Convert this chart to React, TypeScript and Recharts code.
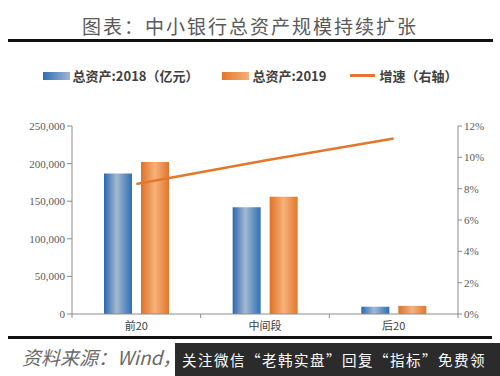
import React from "react";
import {
  ComposedChart,
  Bar,
  Line,
  XAxis,
  YAxis,
  Legend,
} from "recharts";

const categories = ["前20", "中间段", "后20"];
const assets2018 = [187000, 142000, 9700];
const assets2019 = [202000, 156000, 10800];
const growth = [0.083, 0.098, 0.112];

const leftTicks = [0, 50000, 100000, 150000, 200000, 250000];
const rightTicks = [0, 0.02, 0.04, 0.06, 0.08, 0.1, 0.12];

const data = categories.map((name, i) => ({
  name,
  a2018: assets2018[i],
  a2019: assets2019[i],
  growth: growth[i],
}));

const AXIS = "#8c8c8c";
const TICK_TEXT = "#595959";
const BLUE = "#2f6db5";
const ORANGE = "#e4772b";
const legendOrder = ["a2018", "a2019", "growth"];

const tickFont = { fontFamily: "Liberation Serif", fontSize: 11, fill: TICK_TEXT };

const LegendBox = (props: any) => {
  const items = [...(props.payload || [])].sort(
    (a: any, b: any) => legendOrder.indexOf(a.dataKey) - legendOrder.indexOf(b.dataKey)
  );
  return (
    <div
      style={{
        display: "flex",
        justifyContent: "center",
        gap: 24,
        fontFamily: "Noto Sans CJK SC",
        fontWeight: 700,
        fontSize: 13,
        color: "#404040",
      }}
    >
      {items.map((it: any) => (
        <div key={it.value} style={{ display: "flex", alignItems: "center" }}>
          {it.dataKey === "growth" ? (
            <div style={{ width: 25, height: 3, background: ORANGE, marginRight: 4 }} />
          ) : (
            <div
              style={{
                width: 27,
                height: 8,
                marginRight: 3,
                background:
                  it.dataKey === "a2018"
                    ? `linear-gradient(90deg, ${BLUE}, #9fb6cf)`
                    : `linear-gradient(90deg, ${ORANGE}, #f4b07a)`,
              }}
            />
          )}
          <span>{it.value}</span>
        </div>
      ))}
    </div>
  );
};

const CatTick = (props: any) => {
  const { x, y, payload, index } = props;
  const half = 386 / categories.length / 2;
  return (
    <g>
      <line x1={x - half} y1={y - 8} x2={x - half} y2={y - 4} stroke={AXIS} />
      {index === categories.length - 1 && (
        <line x1={x + half} y1={y - 8} x2={x + half} y2={y - 4} stroke={AXIS} />
      )}
      <text
        x={x}
        y={y + 8}
        textAnchor="middle"
        style={{ fontFamily: "Noto Sans CJK SC", fontSize: 11, fill: "#404040" }}
      >
        {payload.value}
      </text>
    </g>
  );
};

export default function App() {
  return (
    <div
      style={{
        position: "absolute",
        left: 0,
        top: 0,
        width: 500,
        height: 376,
        background: "#fff",
        overflow: "hidden",
      }}
    >
      <div
        style={{
          position: "absolute",
          top: 12,
          width: 500,
          textAlign: "center",
          fontFamily: "Noto Sans CJK SC",
          fontSize: 19,
          letterSpacing: 2,
          color: "#5a5a5a",
          lineHeight: "28px",
        }}
      >
        图表：中小银行总资产规模持续扩张
      </div>
      <div
        style={{ position: "absolute", top: 39, left: 8, width: 485, height: 3, background: "#111" }}
      />

      <div style={{ position: "absolute", top: 50, left: 0 }}>
        <ComposedChart
          width={500}
          height={290}
          data={data}
          margin={{ top: 57, right: 0, bottom: 4, left: 0 }}
          barGap={9}
          barSize={28}
        >
          <defs>
            <linearGradient id="gBlue" x1="0" y1="0" x2="1" y2="0">
              <stop offset="0%" stopColor="#2a67b0" />
              <stop offset="45%" stopColor="#a3b9cf" />
              <stop offset="100%" stopColor="#2f6fb8" />
            </linearGradient>
            <linearGradient id="gOrange" x1="0" y1="0" x2="1" y2="0">
              <stop offset="0%" stopColor="#df7127" />
              <stop offset="50%" stopColor="#f6b27c" />
              <stop offset="100%" stopColor="#e3752a" />
            </linearGradient>
          </defs>
          <Legend
            verticalAlign="top"
            wrapperStyle={{ top: 16, left: 0, width: 500 }}
            content={<LegendBox />}
          />
          <XAxis
            dataKey="name"
            height={22}
            axisLine={{ stroke: AXIS }}
            tickLine={false}
            tick={<CatTick />}
            interval={0}
          />
          <YAxis
            yAxisId="left"
            width={72}
            domain={[0, 250000]}
            ticks={leftTicks}
            tickFormatter={(v: number) => v.toLocaleString("en-US")}
            axisLine={{ stroke: AXIS }}
            tickLine={{ stroke: AXIS }}
            tickSize={5}
            tick={tickFont}
          />
          <YAxis
            yAxisId="right"
            orientation="right"
            width={42}
            domain={[0, 0.12]}
            ticks={rightTicks}
            tickFormatter={(v: number) => `${Math.round(v * 100)}%`}
            axisLine={{ stroke: AXIS }}
            tickLine={{ stroke: AXIS }}
            tickSize={4}
            tick={tickFont}
          />
          <Bar
            yAxisId="left"
            dataKey="a2018"
            name="总资产:2018（亿元）"
            fill="url(#gBlue)"
            isAnimationActive={false}
          />
          <Bar
            yAxisId="left"
            dataKey="a2019"
            name="总资产:2019"
            fill="url(#gOrange)"
            isAnimationActive={false}
          />
          <Line
            yAxisId="right"
            dataKey="growth"
            name="增速（右轴）"
            type="linear"
            stroke={ORANGE}
            strokeWidth={2.5}
            dot={false}
            legendType="line"
            isAnimationActive={false}
          />
        </ComposedChart>
      </div>

      <div
        style={{ position: "absolute", top: 336, left: 8, width: 484, height: 3, background: "#111" }}
      />
      <div
        style={{
          position: "absolute",
          top: 343,
          left: 22,
          fontFamily: "Noto Sans CJK SC",
          fontStyle: "italic",
          fontSize: 19,
          color: "#6a6a6a",
          lineHeight: "28px",
        }}
      >
        资料来源：Wind，恒大研究院
      </div>
      <div
        style={{
          position: "absolute",
          top: 343,
          left: 175,
          width: 325,
          height: 33,
          background: "#2b2b2b",
          color: "#fff",
          fontFamily: "Noto Sans CJK SC",
          fontSize: 14.5,
          letterSpacing: 1.5,
          lineHeight: "33px",
          paddingLeft: 7,
          boxSizing: "border-box",
          whiteSpace: "nowrap",
        }}
      >
        关注微信“老韩实盘”回复“指标”免费领
      </div>
    </div>
  );
}
